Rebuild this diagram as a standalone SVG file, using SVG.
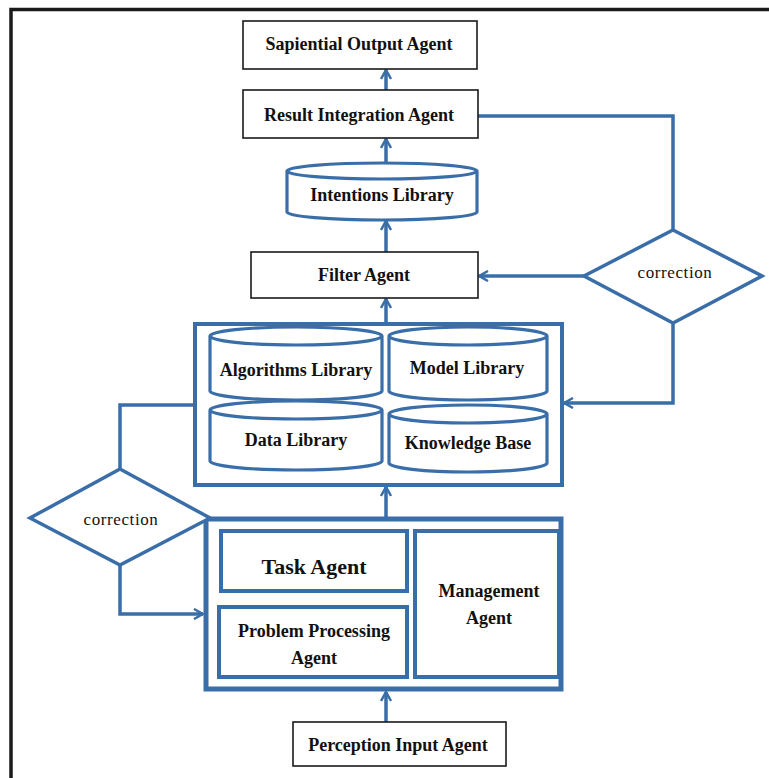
<svg xmlns="http://www.w3.org/2000/svg" width="769" height="778" viewBox="0 0 769 778">
  <style>
    .box { fill: #fff; stroke: #1a1a1a; stroke-width: 1.6; }
    .blue { fill: #fff; stroke: #3a6ea8; }
    .cyl { fill: #fff; stroke: #3a6ea8; stroke-width: 3.2; }
    .lbl { font-family: "Liberation Serif", "Times New Roman", serif; font-weight: bold; font-size: 18px; fill: #111; text-anchor: middle; }
    .dec { font-family: "Liberation Serif", "Times New Roman", serif; font-size: 17px; letter-spacing: 0.6px; fill: #111; text-anchor: middle; }
    .con { fill: none; stroke: #3a6ea8; stroke-width: 3.5; }
  </style>
  <defs>
    <marker id="arr" viewBox="0 0 12 12" refX="11" refY="6" markerWidth="12" markerHeight="12" markerUnits="userSpaceOnUse" orient="auto">
      <path d="M2,1 L11,6 L2,11" fill="none" stroke="#3a6ea8" stroke-width="2.5"/>
    </marker>
  </defs>
  <rect width="769" height="778" fill="#fff"/>
  <!-- page frame -->
  <path d="M11,778 V9.5 H769" fill="none" stroke="#1a1a1a" stroke-width="3.5"/>

  <g id="connectors">
    <path class="con" d="M386,90 V70" marker-end="url(#arr)"/>
    <path class="con" d="M386,163 V139" marker-end="url(#arr)"/>
    <path class="con" d="M386,252 V221" marker-end="url(#arr)"/>
    <path class="con" d="M386,323 V299" marker-end="url(#arr)"/>
    <path class="con" d="M386,517 V487" marker-end="url(#arr)"/>
    <path class="con" d="M386,722 V692" marker-end="url(#arr)"/>
    <path class="con" d="M478,116 H673 V230"/>
    <path class="con" d="M584,276 H479" marker-end="url(#arr)"/>
    <path class="con" d="M673,323 V403 H564" marker-end="url(#arr)"/>
    <path class="con" d="M120,469 V405 H209"/>
    <path class="con" d="M120,565 V614 H203" marker-end="url(#arr)"/>
  </g>

  <g id="sapiential-output">
    <rect class="box" x="243" y="21" width="234" height="48"/>
    <text class="lbl" x="359" y="50">Sapiential Output Agent</text>
  </g>
  <g id="result-integration">
    <rect class="box" x="243" y="90" width="235" height="48"/>
    <text class="lbl" x="359" y="121">Result Integration Agent</text>
  </g>
  <g id="intentions-library">
    <path class="cyl" d="M287,171 V212 A95,8 0 0 0 477,212 V171 A95,8 0 0 0 287,171 A95,8 0 0 0 477,171"/>
    <text class="lbl" x="382" y="201">Intentions Library</text>
  </g>
  <g id="filter-agent">
    <rect class="box" x="251" y="252" width="227" height="46"/>
    <text class="lbl" x="364" y="281">Filter Agent</text>
  </g>

  <g id="library-group">
    <rect class="blue" x="195" y="324" width="367" height="161" stroke-width="4"/>
    <g id="algorithms-library">
      <path class="cyl" d="M210,336 V391 A86,9 0 0 0 382,391 V336 A86,9 0 0 0 210,336 A86,9 0 0 0 382,336"/>
      <text class="lbl" x="296" y="376">Algorithms Library</text>
    </g>
    <g id="model-library">
      <path class="cyl" d="M389,336 V391 A79,9 0 0 0 547,391 V336 A79,9 0 0 0 389,336 A79,9 0 0 0 547,336"/>
      <text class="lbl" x="467" y="374">Model Library</text>
    </g>
    <g id="data-library">
      <path class="cyl" d="M210,410 V461 A86,9 0 0 0 382,461 V410 A86,9 0 0 0 210,410 A86,9 0 0 0 382,410"/>
      <text class="lbl" x="296" y="446">Data Library</text>
    </g>
    <g id="knowledge-base">
      <path class="cyl" d="M389,414 V463 A79,9 0 0 0 547,463 V414 A79,9 0 0 0 389,414 A79,9 0 0 0 547,414"/>
      <text class="lbl" x="468" y="449">Knowledge Base</text>
    </g>
  </g>

  <g id="agent-group">
    <rect class="blue" x="206" y="519" width="355" height="170" stroke-width="5"/>
    <g id="task-agent">
      <rect class="blue" x="221" y="531" width="186" height="60" stroke-width="4"/>
      <text class="lbl" x="314" y="574" style="font-size:22px">Task Agent</text>
    </g>
    <g id="problem-processing">
      <rect class="blue" x="219" y="607" width="188" height="70" stroke-width="4"/>
      <text class="lbl" x="314" y="637">Problem Processing</text>
      <text class="lbl" x="314" y="664">Agent</text>
    </g>
    <g id="management-agent">
      <rect class="blue" x="415" y="531" width="144" height="146" stroke-width="4"/>
      <text class="lbl" x="489" y="597">Management</text>
      <text class="lbl" x="489" y="624">Agent</text>
    </g>
  </g>

  <g id="perception-input">
    <rect class="box" x="293" y="722" width="213" height="44"/>
    <text class="lbl" x="398" y="751">Perception Input Agent</text>
  </g>

  <g id="correction-right">
    <polygon class="blue" points="673,230 762,276 673,323 584,276" stroke-width="3.5"/>
    <text class="dec" x="675" y="278">correction</text>
  </g>
  <g id="correction-left">
    <polygon class="blue" points="120,469 210,518 120,565 30,518" stroke-width="3.5"/>
    <text class="dec" x="121" y="525">correction</text>
  </g>
</svg>
